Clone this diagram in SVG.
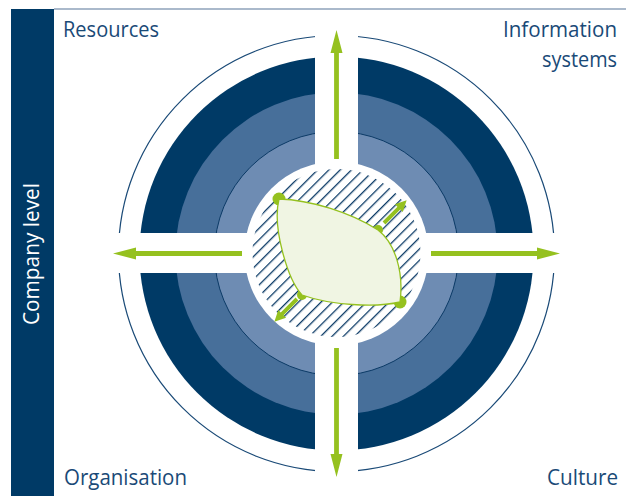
<svg xmlns="http://www.w3.org/2000/svg" width="626" height="496" viewBox="0 0 626 496">
<style>
.lbl{font-family:"Open Sans","Liberation Sans",sans-serif;font-size:22px;fill:#1a4a77}
.ga{fill:#95c11f}
</style>
<defs>
<pattern id="hatch" patternUnits="userSpaceOnUse" width="8" height="8" patternTransform="rotate(45)">
<rect x="0" y="0" width="1.3" height="8" fill="#0b3a66"/>
</pattern>
<path id="bigArrow" d="M0,-2.4 H106 V-6 L129,0 L106,6 V2.4 H0 Z"/>
<path id="smallArrow" d="M0,-2 H21 V-5.5 L32,0 L21,5.5 V2 H0 Z"/>
<clipPath id="hc"><circle cx="336.5" cy="253" r="84"/></clipPath>
</defs>
<rect width="626" height="496" fill="#ffffff"/>
<line x1="54" y1="9" x2="626" y2="9" stroke="#8ea2ba" stroke-width="1.5"/>
<g id="company-level">
<rect x="11" y="9" width="43" height="487" fill="#003a66"/>
<text transform="translate(38.5,254) rotate(-90)" text-anchor="middle" textLength="142" lengthAdjust="spacingAndGlyphs" style="font-family:'Open Sans','Liberation Sans',sans-serif;font-size:21px;fill:#ffffff">Company level</text>
</g>
<g id="rings">
<circle cx="336.5" cy="253.5" r="218" fill="none" stroke="#1a4a77" stroke-width="1.2"/>
<circle cx="336.5" cy="253.5" r="197" fill="#003a66"/>
<circle cx="336.5" cy="253.5" r="161" fill="#476f9a"/>
<circle cx="336.5" cy="253.5" r="122" fill="#6e8cb3" stroke="#0b3a66" stroke-width="1"/>
<circle cx="336.5" cy="253.5" r="92" fill="#ffffff"/>
<rect x="315" y="20" width="43" height="470" fill="#ffffff"/>
<rect x="100" y="233" width="473" height="40" fill="#ffffff"/>
</g>
<g id="core">
<rect x="250" y="167" width="174" height="174" fill="url(#hatch)" clip-path="url(#hc)"/>
<circle cx="279" cy="199" r="6.5" class="ga"/>
<circle cx="400" cy="302" r="6.5" class="ga"/>
<circle cx="378" cy="230" r="5" class="ga"/>
<circle cx="302" cy="295" r="5" class="ga"/>
<path d="M279,199 C310,200 350,212 378,230 C395,243 404,272 400,302 C375,308 330,305 302,295 C288,280 272,228 279,199 Z" fill="#f0f5e3" stroke="#95c11f" stroke-width="1.3"/>
</g>
<g id="connectors">
<use href="#bigArrow" class="ga" transform="translate(336.5,253.5) rotate(-90) translate(94.5,0)"/>
<use href="#bigArrow" class="ga" transform="translate(336.5,253.5) rotate(90) translate(94.5,0)"/>
<use href="#bigArrow" class="ga" transform="translate(336.5,253.5) rotate(180) translate(94.5,0)"/>
<use href="#bigArrow" class="ga" transform="translate(336.5,253.5) translate(94.5,0)"/>
<use href="#smallArrow" class="ga" transform="translate(384,223) rotate(-45)"/>
<use href="#smallArrow" class="ga" transform="translate(297,299) rotate(135)"/>
</g>
<g id="labels">
<text class="lbl" x="63" y="37" textLength="96" lengthAdjust="spacingAndGlyphs">Resources</text>
<text class="lbl" x="503" y="37" textLength="114" lengthAdjust="spacingAndGlyphs">Information</text>
<text class="lbl" x="542" y="67" textLength="75" lengthAdjust="spacingAndGlyphs">systems</text>
<text class="lbl" x="64" y="485" textLength="123" lengthAdjust="spacingAndGlyphs">Organisation</text>
<text class="lbl" x="547" y="485" textLength="71" lengthAdjust="spacingAndGlyphs">Culture</text>
</g>
</svg>
